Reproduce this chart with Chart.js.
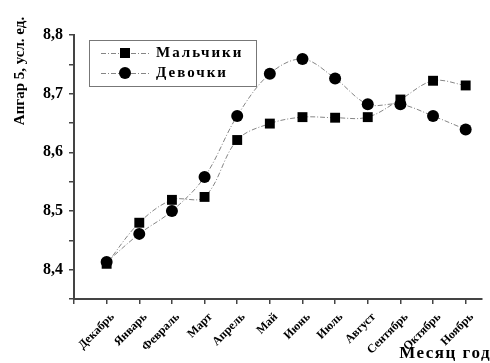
<!DOCTYPE html>
<html><head><meta charset="utf-8">
<script src="https://cdn.jsdelivr.net/npm/chart.js@4/dist/chart.umd.min.js"></script>
<style>html,body{margin:0;padding:0;background:#fff}#wrap{width:490px;height:363px;position:relative}</style>
</head><body><div id="wrap"><canvas id="c" width="490" height="363"></canvas></div>
<script>
const months = ['Декабрь','Январь','Февраль','Март','Апрель','Май','Июнь','Июль','Август','Сентябрь','Октябрь','Ноябрь'];
const boys  = [8.41, 8.48, 8.519, 8.524, 8.621, 8.649, 8.66, 8.659, 8.66, 8.69, 8.722, 8.714];
const girls = [8.413, 8.461, 8.50, 8.558, 8.662, 8.734, 8.759, 8.726, 8.682, 8.682, 8.662, 8.639];
const seriesNames = ['Мальчики','Девочки'];
const yTitle = 'Апгар 5, усл. ед.';
const xTitle = 'Месяц год';

const SERIF = '"Liberation Serif", "DejaVu Serif", serif';
const lineDash = [5,2,1,2];

const titlesPlugin = {
  id: 'titles',
  afterDraw(chart) {
    const ctx = chart.ctx;
    ctx.save();
    ctx.fillStyle = '#000';
    ctx.font = 'bold 15px ' + SERIF;
    ctx.translate(20, 71);
    ctx.rotate(-Math.PI/2);
    ctx.textAlign = 'center';
    ctx.textBaseline = 'middle';
    ctx.fillText(yTitle, 0, 0);
    ctx.restore();

    ctx.save();
    ctx.fillStyle = '#000';
    ctx.font = 'bold 17px ' + SERIF;
    ctx.letterSpacing = '1.5px';
    ctx.textAlign = 'right';
    ctx.textBaseline = 'middle';
    ctx.fillText(xTitle, 491, 354);
    ctx.restore();
  }
};

const legendPlugin = {
  id: 'boxLegend',
  afterDraw(chart) {
    const ctx = chart.ctx;
    ctx.save();
    ctx.strokeStyle = '#777';
    ctx.lineWidth = 1;
    ctx.strokeRect(89.5, 40.5, 167, 46);
    chart.data.datasets.forEach((ds, i) => {
      const y = 53 + i * 20;
      ctx.strokeStyle = '#666';
      ctx.lineWidth = 0.8;
      ctx.setLineDash(lineDash);
      ctx.beginPath(); ctx.moveTo(101, y + 0.5); ctx.lineTo(151, y + 0.5); ctx.stroke();
      ctx.setLineDash([]);
      ctx.fillStyle = '#000';
      if (ds.pointStyle === 'rect') {
        ctx.fillRect(120, y - 5, 10, 10);
      } else {
        ctx.beginPath(); ctx.arc(125, y, 6, 0, Math.PI*2); ctx.fill();
      }
      ctx.font = 'bold 15px ' + SERIF;
      ctx.letterSpacing = '2px';
      ctx.textAlign = 'left';
      ctx.textBaseline = 'middle';
      ctx.fillText(ds.label, 156, y);
      ctx.letterSpacing = '0px';
    });
    ctx.restore();
  }
};

new Chart(document.getElementById('c'), {
  type: 'line',
  data: {
    datasets: [
      { label: seriesNames[0], data: boys.map((v,i)=>({x:i,y:v})), pointStyle: 'rect', pointRadius: 7, pointHoverRadius: 7,
        backgroundColor: '#000', pointBackgroundColor: '#000', pointBorderWidth: 0,
        borderColor: '#666', borderWidth: 0.8, borderDash: lineDash, tension: 0.35, fill: false },
      { label: seriesNames[1], data: girls.map((v,i)=>({x:i,y:v})), pointStyle: 'circle', pointRadius: 6, pointHoverRadius: 6,
        backgroundColor: '#000', pointBackgroundColor: '#000', pointBorderWidth: 0,
        borderColor: '#666', borderWidth: 0.8, borderDash: lineDash, tension: 0.35, fill: false }
    ]
  },
  options: {
    responsive: false,
    animation: false,
    layout: { padding: { top: 35, right: 8, left: 0, bottom: 0 } },
    plugins: { legend: { display: false }, tooltip: { enabled: false } },
    scales: {
      x: {
        type: 'linear', min: -1, max: 11.5,
        afterFit(s) { s.height = 64; },
        border: { color: '#444', width: 2 },
        grid: { drawOnChartArea: false, drawTicks: true, tickLength: 5, color: '#444', lineWidth: 1.5 },
        ticks: {
          stepSize: 1, includeBounds: false, autoSkip: false,
          minRotation: 45, maxRotation: 45, labelOffset: 6, padding: 6,
          color: '#000', font: { family: SERIF, size: 12, weight: 'bold' },
          callback: v => (Number.isInteger(v) && v >= 0 && v < months.length) ? months[v] : ''
        }
      },
      y: {
        min: 8.35, max: 8.8,
        afterFit(s) { s.width = 74; },
        border: { color: '#444', width: 2 },
        grid: { drawOnChartArea: false, drawTicks: true, tickLength: 5, color: '#444', lineWidth: 1.5 },
        ticks: {
          stepSize: 0.05, padding: 6, color: '#000', font: { family: SERIF, size: 16, weight: 'bold' },
          callback: v => {
            const t = v * 10;
            if (Math.abs(t - Math.round(t)) < 1e-6 && v > 8.36) return v.toFixed(1).replace('.', ',');
            return '';
          }
        }
      }
    }
  },
  plugins: [titlesPlugin, legendPlugin]
});
</script></body></html>
